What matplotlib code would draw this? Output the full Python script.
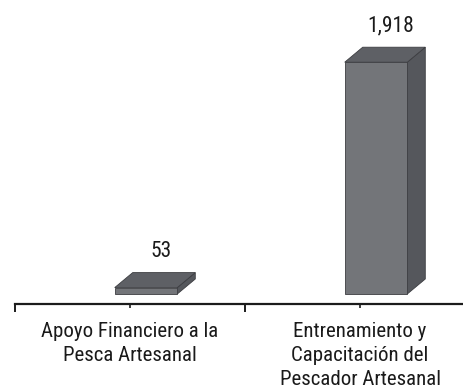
import matplotlib
matplotlib.use("Agg")
import matplotlib.pyplot as plt
from matplotlib.patches import Polygon
from matplotlib.transforms import ScaledTranslation, IdentityTransform
import numpy as np

# Data
categories = [
    "Apoyo Financiero a la\nPesca Artesanal",
    "Entrenamiento y\nCapacitación del\nPescador Artesanal",
]
values = [53, 1918]

plt.rcParams["font.family"] = ["Liberation Sans Narrow", "Roboto Condensed",
                               "Archivo Narrow", "Liberation Sans"]

DPI = 100
W_PX, H_PX = 464, 389

fig = plt.figure(figsize=(W_PX / DPI, H_PX / DPI), dpi=DPI)
fig.patch.set_facecolor("white")

# axes: left edge at the first category boundary, bottom on the axis line
ax = fig.add_axes([15 / W_PX, (H_PX - 304) / H_PX, 460 / W_PX, 284 / H_PX])
ax.set_xlim(-0.5, 1.5)
ax.set_ylim(0, 2350)
ax.set_facecolor("none")

for s in ("left", "right", "top"):
    ax.spines[s].set_visible(False)
ax.spines["bottom"].set_linewidth(1.6)
ax.spines["bottom"].set_color("#1c1c1c")
ax.set_yticks([])

xs = np.arange(len(categories))

# category boundaries (major) and centres (minor, labelled)
ax.set_xticks([-0.5, 0.5, 1.5])
ax.set_xticklabels([])
ax.set_xticks(xs, labels=categories, minor=True)
ax.tick_params(axis="x", which="major", length=5.8, width=1.4, color="#1c1c1c", direction="out")
ax.tick_params(axis="x", which="minor", length=3.0, width=1.2, color="#1c1c1c",
               direction="out", pad=10, labelsize=15, labelcolor="#1a1a1a")
for lbl in ax.get_xticklabels(minor=True):
    lbl.set_linespacing(1.32)

# 3-D box bars: front face drawn as a bar, side and top faces as parallelograms
BAR_W = 0.272
SHIFT_PX = (16, 10)   # front face sits slightly back from the axis line
DEPTH_PX = (18, 15)   # depth of the boxes

FRONT = "#737579"
SIDE = "#55575c"
TOP = "#5e6065"
EDGE = "#3c3d41"

shift = ScaledTranslation(SHIFT_PX[0] / DPI, SHIFT_PX[1] / DPI, fig.dpi_scale_trans)
ax.bar(xs, values, width=BAR_W, color=FRONT, edgecolor=EDGE, linewidth=0.6,
       transform=ax.transData + shift, zorder=3)

dx, dy = DEPTH_PX
for x, v in zip(xs, values):
    px0, py0 = ax.transData.transform((x - BAR_W / 2, 0)) + np.array(SHIFT_PX)
    px1, py1 = ax.transData.transform((x + BAR_W / 2, v)) + np.array(SHIFT_PX)
    side = [(px1, py0), (px1, py1), (px1 + dx, py1 + dy), (px1 + dx, py0 + dy)]
    top = [(px0, py1), (px1, py1), (px1 + dx, py1 + dy), (px0 + dx, py1 + dy)]
    for pts, col in ((side, SIDE), (top, TOP)):
        poly = Polygon(pts, closed=True, transform=IdentityTransform(), facecolor=col,
                       edgecolor=EDGE, linewidth=0.6, clip_on=False, zorder=2)
        ax.add_artist(poly)

# value labels above each box
for x, v in zip(xs, values):
    ax.annotate(f"{v:,}", xy=(x, v), xytext=(31, 41), textcoords="offset pixels",
                ha="center", va="baseline", fontsize=15.5, color="#1a1a1a")

fig.savefig("out.png", dpi=DPI, facecolor="white")
